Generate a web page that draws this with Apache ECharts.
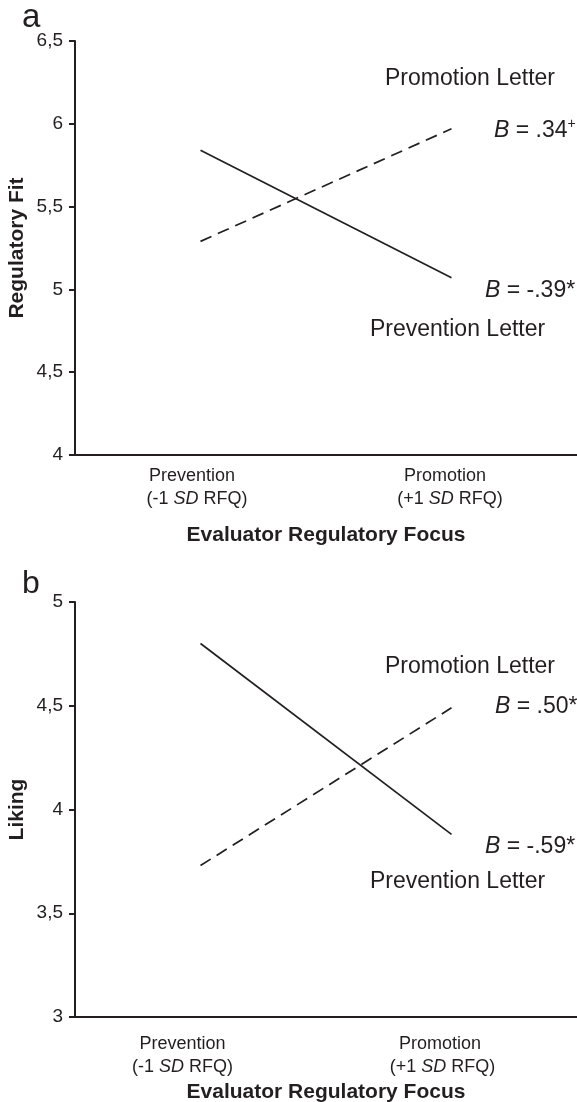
<!DOCTYPE html>
<html>
<head>
<meta charset="utf-8">
<script src="https://cdn.jsdelivr.net/npm/echarts@6/dist/echarts.min.js"></script>
<style>
html,body{margin:0;padding:0;background:#fff;}
#c{width:577px;height:1102px;}
</style>
</head>
<body>
<div id="c"></div>
<script>
// ---- data ----
const categories = ['Prevention', 'Promotion'];
const categorySub = ['-1', '+1'];
const fitPreventionLetter = [5.84, 5.07];
const fitPromotionLetter = [5.29, 5.97];
const likingPreventionLetter = [4.80, 3.88];
const likingPromotionLetter = [3.73, 4.49];
const fitTicks = { min: 4, max: 6.5, interval: 0.5 };
const likingTicks = { min: 3, max: 5, interval: 0.5 };
const fitCoefs = ['.34', '-.39'];
const fitSig = ['+', '*'];
const likingCoefs = ['.50', '-.59'];
const likingSig = ['*', '*'];

const INK = '#231f20';
const FONT = '"Liberation Sans", Arial, Helvetica, sans-serif';

function catFormatter(value, idx) {
  return '{a' + idx + '|' + value + '}\n{n|(' + categorySub[idx] + ' }{i|SD}{b' + idx + '| RFQ)}';
}
function catRich(p0a, p0b, p1a, p1b) {
  const base = { fontFamily: FONT, fontSize: 18, color: INK, lineHeight: 23 };
  return {
    n: Object.assign({}, base),
    i: Object.assign({}, base, { fontStyle: 'italic' }),
    a0: Object.assign({}, base, { padding: [0, p0a, 0, 0] }),
    b0: Object.assign({}, base, { padding: [0, p0b, 0, 0] }),
    a1: Object.assign({}, base, { padding: [0, p1a, 0, 0] }),
    b1: Object.assign({}, base, { padding: [0, p1b, 0, 0] })
  };
}

function yAxisCfg(gridIndex, ticks, name, gap) {
  return {
    type: 'value', gridIndex: gridIndex,
    min: ticks.min, max: ticks.max, interval: ticks.interval,
    name: name, nameLocation: 'middle', nameGap: gap, nameRotate: 90,
    nameMoveOverlap: false,
    nameTextStyle: { fontFamily: FONT, fontSize: 21, fontWeight: 'bold', color: INK },
    axisLine: { show: true, lineStyle: { color: INK, width: 2 } },
    axisTick: { show: true, length: 6, lineStyle: { color: INK, width: 2 } },
    splitLine: { show: false },
    axisLabel: {
      margin: 12, fontFamily: FONT, fontSize: 19, color: INK,
      formatter: function (v) { return String(v).replace('.', ','); }
    }
  };
}
function xAxisCfg(gridIndex, margin, nameGap, rich) {
  return {
    type: 'category', gridIndex: gridIndex, data: categories, boundaryGap: true,
    name: 'Evaluator Regulatory Focus', nameLocation: 'middle', nameGap: nameGap,
    nameMoveOverlap: false,
    nameTextStyle: { fontFamily: FONT, fontSize: 21, fontWeight: 'bold', color: INK },
    axisLine: { show: true, lineStyle: { color: INK, width: 2 } },
    axisTick: { show: false },
    splitLine: { show: false },
    axisLabel: { margin: margin, interval: 0, formatter: catFormatter, rich: rich }
  };
}
function lineSeries(xi, data, dashed) {
  return {
    type: 'line', xAxisIndex: xi, yAxisIndex: xi, data: data,
    symbol: 'none', silent: true, animation: false,
    lineStyle: { color: INK, width: 1.7, type: dashed ? [12, 7] : 'solid' }
  };
}
const textRich = {
  n: { fontFamily: FONT, fontSize: 23, fill: INK, color: INK },
  i: { fontFamily: FONT, fontSize: 23, fontStyle: 'italic', fill: INK, color: INK },
  s: { fontFamily: FONT, fontSize: 14, fill: INK, color: INK, verticalAlign: 'top', lineHeight: 27 }
};
function txt(x, y, text, size, rich) {
  const st = { text: text, fill: INK, font: size + 'px ' + FONT, align: 'left', verticalAlign: 'middle' };
  if (rich) st.rich = textRich;
  return { type: 'text', x: x, y: y, style: st, silent: true };
}
function coefText(c, s) {
  const sup = s === '+' ? '{s|+}' : '{n|*}';
  return '{i|B}{n| = ' + c + '}' + sup;
}

const chart = echarts.init(document.getElementById('c'), null, { renderer: 'canvas' });
chart.setOption({
  animation: false,
  backgroundColor: '#fff',
  grid: [
    { left: 75, right: 0, top: 41, height: 414, containLabel: false, outerBoundsMode: 'none' },
    { left: 75, right: 0, top: 602, height: 415, containLabel: false, outerBoundsMode: 'none' }
  ],
  xAxis: [
    xAxisCfg(0, 9.5, 70, catRich(17, 7, 13, 3)),
    xAxisCfg(1, 15.5, 65, catRich(36, 36, 23, 18))
  ],
  yAxis: [
    yAxisCfg(0, fitTicks, 'Regulatory Fit', 47),
    yAxisCfg(1, likingTicks, 'Liking', 47)
  ],
  series: [
    lineSeries(0, fitPreventionLetter, false),
    lineSeries(0, fitPromotionLetter, true),
    lineSeries(1, likingPreventionLetter, false),
    lineSeries(1, likingPromotionLetter, true)
  ],
  graphic: [
    txt(22, 18, 'a', 33, false),
    txt(385, 79, 'Promotion Letter', 23, false),
    txt(494, 131, coefText(fitCoefs[0], fitSig[0]), 23, true),
    txt(485, 291, coefText(fitCoefs[1], fitSig[1]), 23, true),
    txt(370, 330, 'Prevention Letter', 23, false),
    txt(22, 584, 'b', 32, false),
    txt(385, 667, 'Promotion Letter', 23, false),
    txt(495, 707, coefText(likingCoefs[0], likingSig[0]), 23, true),
    txt(485, 847, coefText(likingCoefs[1], likingSig[1]), 23, true),
    txt(370, 882, 'Prevention Letter', 23, false)
  ]
});
</script>
</body>
</html>
